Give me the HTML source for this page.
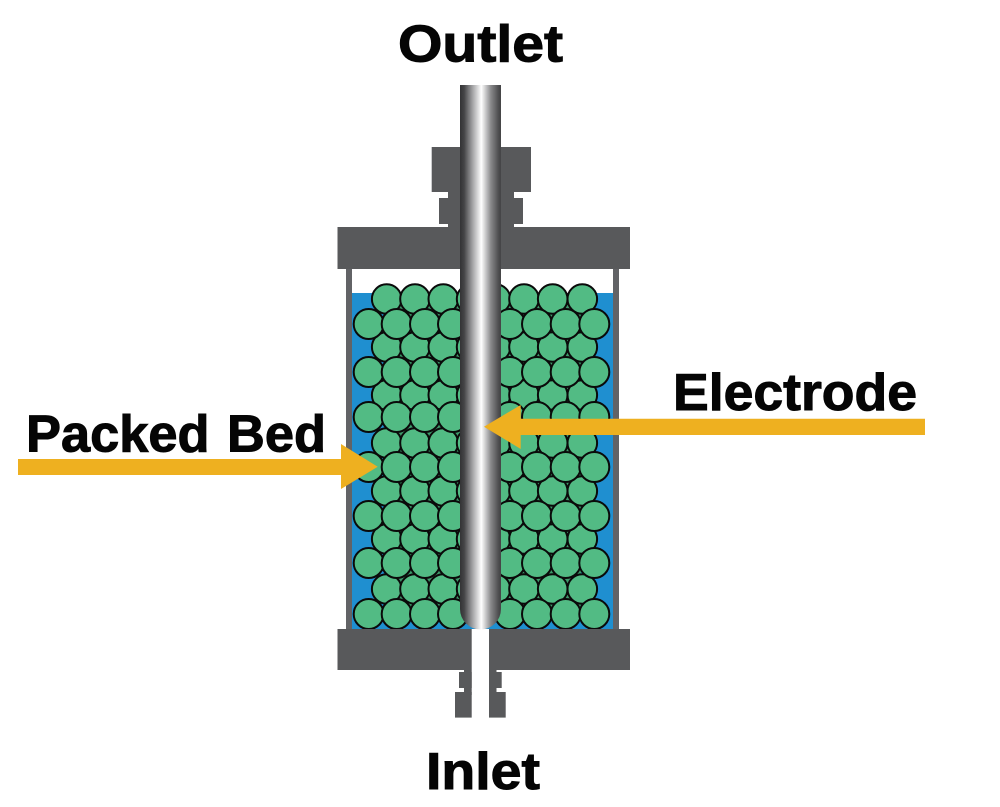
<!DOCTYPE html>
<html>
<head>
<meta charset="utf-8">
<style>
html,body{margin:0;padding:0;background:#fff;}
svg{display:block;}
text{font-family:"Liberation Sans",sans-serif;font-weight:bold;font-size:52px;fill:#050505;stroke:#050505;stroke-width:1;}
</style>
</head>
<body>
<svg width="1000" height="807" viewBox="0 0 1000 807" xmlns="http://www.w3.org/2000/svg">
<defs>
<linearGradient id="rod" x1="0" x2="1" y1="0" y2="0">
<stop offset="0" stop-color="#333335"/>
<stop offset="0.1" stop-color="#444446"/>
<stop offset="0.3" stop-color="#a0a0a2"/>
<stop offset="0.52" stop-color="#ffffff"/>
<stop offset="0.75" stop-color="#8a8a8c"/>
<stop offset="0.95" stop-color="#4a4a4c"/>
<stop offset="1" stop-color="#444446"/>
</linearGradient>
<g id="a" fill="#52bb84" stroke="#0a0a0a" stroke-width="2">
<circle cx="386.7" cy="0" r="14.8"/><circle cx="415" cy="0" r="14.8"/><circle cx="443.3" cy="0" r="14.8"/><circle cx="471.6" cy="0" r="14.8"/><circle cx="495.5" cy="0" r="14.8"/><circle cx="524" cy="0" r="14.8"/><circle cx="552.7" cy="0" r="14.8"/><circle cx="582.3" cy="0" r="14.8"/>
</g>
<g id="b" fill="#52bb84" stroke="#0a0a0a" stroke-width="2">
<circle cx="368.7" cy="0" r="15"/><circle cx="396.7" cy="0" r="15"/><circle cx="425" cy="0" r="15"/><circle cx="453" cy="0" r="15"/><circle cx="510" cy="0" r="15"/><circle cx="537" cy="0" r="15"/><circle cx="565.7" cy="0" r="15"/><circle cx="594.3" cy="0" r="15"/>
</g>
</defs>

<rect x="352" y="293" width="261" height="336" fill="#1f8fd0"/>
<rect x="346" y="268" width="6" height="361" fill="#626366"/>
<rect x="613" y="268" width="6" height="361" fill="#626366"/>
<rect x="385" y="300" width="196" height="314" fill="#3f9a6c"/>

<use href="#a" y="299"/><use href="#a" y="347"/><use href="#a" y="395"/><use href="#a" y="443"/><use href="#a" y="491"/><use href="#a" y="539"/><use href="#a" y="589"/>
<use href="#b" y="324"/><use href="#b" y="372"/><use href="#b" y="417"/><use href="#b" y="467"/><use href="#b" y="516"/><use href="#b" y="563"/><use href="#b" y="614"/>

<g fill="#58595b">
<rect x="431.7" y="147" width="99.3" height="45"/>
<rect x="448" y="190" width="66" height="40"/>
<rect x="439" y="198" width="84" height="26"/>
<rect x="337.5" y="227" width="292.5" height="42"/>
<rect x="337.5" y="629" width="134.2" height="41"/>
<rect x="489" y="629" width="141" height="41"/>
<rect x="464" y="670" width="7.7" height="25"/>
<rect x="459" y="672" width="12.7" height="16"/>
<rect x="455" y="692" width="16.7" height="25.6"/>
<rect x="489" y="670" width="7.5" height="25"/>
<rect x="489" y="672" width="12.7" height="16"/>
<rect x="489" y="692" width="16.7" height="25.6"/>
</g>

<path d="M460 85H501V609A20.5 20.5 0 0 1 460 609Z" fill="url(#rod)"/>

<polygon points="925,418.7 520.7,418.7 520.7,405 484,426.7 520.7,449 520.7,435 925,435" fill="#eeb020"/>
<polygon points="18,459 341,459 341,444 377.7,466.7 341,489 341,475 18,475" fill="#eeb020"/>

<text x="398" y="61.5" textLength="165" lengthAdjust="spacingAndGlyphs">Outlet</text>
<text x="426" y="789" textLength="114" lengthAdjust="spacingAndGlyphs">Inlet</text>
<text x="673" y="410" textLength="244" lengthAdjust="spacingAndGlyphs">Electrode</text>
<text x="26" y="451.7" textLength="300" lengthAdjust="spacingAndGlyphs" style="word-spacing:3px">Packed Bed</text>
</svg>
</body>
</html>
